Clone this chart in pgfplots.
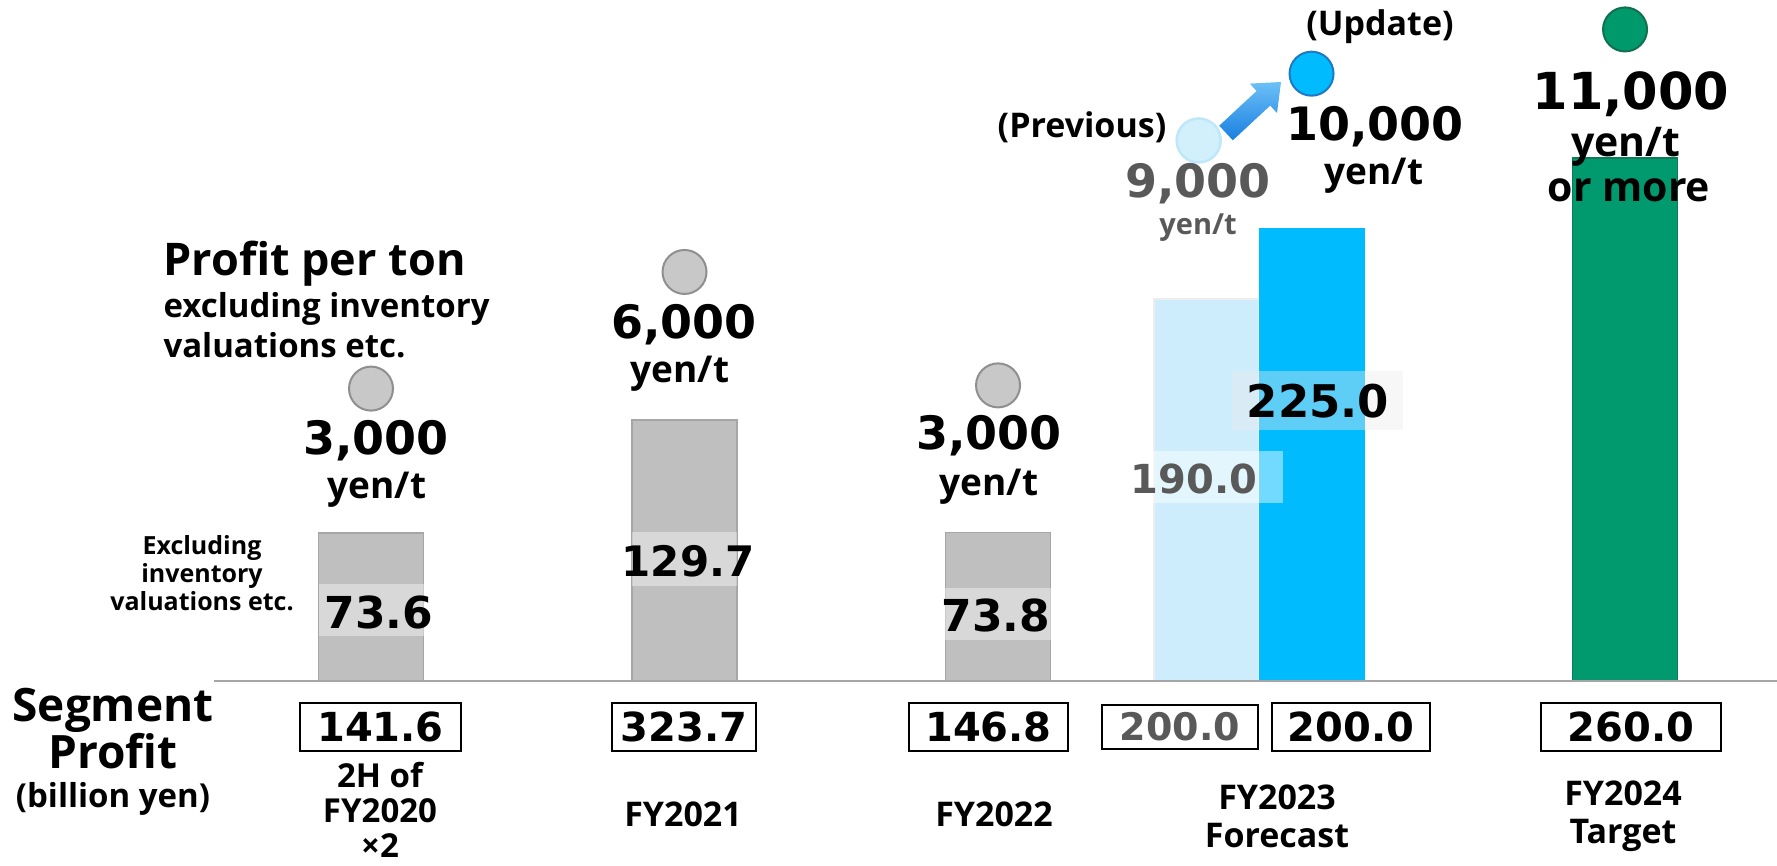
\documentclass[border=0pt]{standalone}
\usepackage{pgfplots}
\pgfplotsset{compat=1.18}
\usepackage{fontspec}
\setmainfont{Open Sans}
\newfontfamily\numf{DejaVu Sans}
\definecolor{gbar}{HTML}{BFBFBF}
\definecolor{gbard}{HTML}{A6A6A6}
\definecolor{lblue}{HTML}{CDEDFC}
\definecolor{sblue}{HTML}{00BCFF}
\definecolor{dgreen}{HTML}{009A6E}
\definecolor{dgreenb}{HTML}{0E7A57}
\definecolor{gtext}{HTML}{595959}
\definecolor{axl}{HTML}{A6A6A6}
\definecolor{gbub}{HTML}{C8C8C8}
\definecolor{gbubd}{HTML}{8F8F8F}
\definecolor{pbub}{HTML}{D2F0FC}
\definecolor{pbubd}{HTML}{BFE7FA}
\definecolor{ububd}{HTML}{1E78C2}
\definecolor{gbubg}{HTML}{00996B}
\definecolor{gbubgd}{HTML}{12704F}
\definecolor{arl}{HTML}{6CC0F7}
\definecolor{ard}{HTML}{1A7FE0}
\newcommand\fs[2]{\fontsize{#1}{#2}\selectfont}
\begin{document}
\begin{tikzpicture}
\begin{axis}[at={(0pt,0pt)}, anchor=south west, scale only axis,
  width=1777pt, height=865pt,
  xmin=-1.1834, xmax=4.4848, ymin=-91.5, ymax=338.64,
  hide axis, clip=false]
\addplot[ybar, bar width=105pt, bar shift=0pt, fill=gbar, draw=gbard, line width=1.5pt]
  coordinates {(0,73.6) (1,129.7) (2,73.8)};
\addplot[ybar, bar width=105pt, bar shift=0pt, fill=lblue, draw=black!7, line width=1.2pt]
  coordinates {(2.665,190.0)};
\addplot[ybar, bar width=105pt, bar shift=0pt, fill=sblue, draw=sblue, line width=1pt]
  coordinates {(3,225.0)};
\addplot[ybar, bar width=105pt, bar shift=0pt, fill=dgreen, draw=dgreenb, line width=1.5pt]
  coordinates {(4,260.0)};
\draw[axl, line width=2.5pt] (axis cs:-0.5,0) -- (axis cs:4.4848,0);
% profit-per-ton bubbles
\addplot[only marks, mark=*, mark size=22pt, mark options={fill=gbub, draw=gbubd, line width=2pt}]
  coordinates {(0,145.4) (1,203.4) (2,147.0)};
\addplot[only marks, mark=*, mark size=22pt, mark options={fill=pbub, draw=pbubd, line width=2.5pt}]
  coordinates {(2.64,268.8)};
\addplot[only marks, mark=*, mark size=22pt, mark options={fill=sblue, draw=ububd, line width=2pt}]
  coordinates {(3,302.0)};
\addplot[only marks, mark=*, mark size=22pt, mark options={fill=gbubg, draw=gbubgd, line width=2pt}]
  coordinates {(4,324.0)};
\end{axis}
\begin{scope}[x=1pt, y=-1pt, yshift=865pt]
% translucent label boxes
\fill[white, fill opacity=0.4] (319,584) rectangle (424,636);
\fill[white, fill opacity=0.4] (632,532) rectangle (737,586);
\fill[white, fill opacity=0.4] (945,588) rectangle (1051,640);
\fill[white, fill opacity=0.45] (1153,451) rectangle (1283,503);
\fill[black!8, fill opacity=0.4] (1232,371) rectangle (1403,430);
% bar value labels
\node[font=\numf\bfseries\fs{44}{48}] at (379,612) {73.6};
\node[font=\numf\bfseries\fs{42}{46}] at (688,561) {129.7};
\node[font=\numf\bfseries\fs{44}{48}] at (996,615) {73.8};
\node[font=\numf\bfseries\fs{40}{44}, text=gtext] at (1194,479) {190.0};
\node[font=\numf\bfseries\fs{45}{49}] at (1318,401) {225.0};
% arrow
\shade[left color=arl, right color=ard, shading angle=0]
  (1232.8,140.3) -- (1270.2,105.6) -- (1277.0,113.0) -- (1281,82) --
  (1249.8,83.6) -- (1256.6,91.0) -- (1219.2,125.7) -- cycle;
% profit per ton texts
\node[anchor=west, font=\bfseries\fs{45}{50}] at (160,264) {Profit per ton};
\node[anchor=west, font=\bfseries\fs{33}{38}] at (160,309) {excluding inventory};
\node[anchor=west, font=\bfseries\fs{33}{38}] at (160,345) {valuations etc.};
\node[font=\numf\bfseries\fs{46}{50}] at (376,441) {3,000};
\node[font=\bfseries\fs{37}{42}] at (377,490) {yen/t};
\node[font=\numf\bfseries\fs{46}{50}] at (684,325) {6,000};
\node[font=\bfseries\fs{37}{42}] at (680,374) {yen/t};
\node[font=\numf\bfseries\fs{46}{50}] at (989,436) {3,000};
\node[font=\bfseries\fs{37}{42}] at (989,487) {yen/t};
\node[font=\bfseries\fs{34}{40}] at (1082,127) {(Previous)};
\node[font=\numf\bfseries\fs{46}{50}, text=gtext] at (1198,184) {9,000};
\node[font=\bfseries\fs{29}{34}, text=gtext] at (1198,228) {yen/t};
\node[font=\bfseries\fs{34}{40}] at (1380,27) {(Update)};
\node[font=\numf\bfseries\fs{46}{50}] at (1375,127) {10,000};
\node[font=\bfseries\fs{37}{42}] at (1374,176) {yen/t};
\node[font=\numf\bfseries\fs{51}{55}] at (1631,94) {11,000};
\node[font=\bfseries\fs{41}{46}] at (1626,147) {yen/t};
\node[font=\bfseries\fs{41}{46}] at (1629,190) {or more};
\node[font=\bfseries\fs{25}{28}, align=center] at (202,573) {Excluding\\inventory\\valuations etc.};
% segment profit
\node[font=\bfseries\fs{46}{47}, align=center] at (113,729) {Segment\\Profit};
\node[font=\bfseries\fs{33}{38}] at (113,799) {(billion yen)};
\node[draw, line width=2pt, minimum width=161pt, minimum height=48pt, inner sep=0pt, font=\numf\bfseries\fs{40}{44}] at (380.5,727) {141.6};
\node[draw, line width=2pt, minimum width=144pt, minimum height=48pt, inner sep=0pt, font=\numf\bfseries\fs{40}{44}] at (684,727) {323.7};
\node[draw, line width=2pt, minimum width=159pt, minimum height=48pt, inner sep=0pt, font=\numf\bfseries\fs{40}{44}] at (988.5,727) {146.8};
\node[draw, line width=1.5pt, minimum width=156pt, minimum height=44pt, inner sep=0pt, text=gtext, font=\numf\bfseries\fs{38}{42}] at (1180,727) {200.0};
\node[draw, line width=2pt, minimum width=158pt, minimum height=48pt, inner sep=0pt, font=\numf\bfseries\fs{40}{44}] at (1351,727) {200.0};
\node[draw, line width=2pt, minimum width=180pt, minimum height=48pt, inner sep=0pt, font=\numf\bfseries\fs{40}{44}] at (1631,727) {260.0};
% categories
\node[font=\bfseries\fs{33}{35}, align=center] at (380,810) {2H of\\FY2020\\×2};
\node[font=\bfseries\fs{34}{37}] at (683,814) {FY2021};
\node[font=\bfseries\fs{34}{37}] at (994,814) {FY2022};
\node[font=\bfseries\fs{34}{38}, align=center] at (1277,816) {FY2023\\Forecast};
\node[font=\bfseries\fs{34}{38}, align=center] at (1623,816) {FY2024\\Target};
\end{scope}
\pgfresetboundingbox
\path (0,0) rectangle (1777pt,865pt);
\end{tikzpicture}
\end{document}
